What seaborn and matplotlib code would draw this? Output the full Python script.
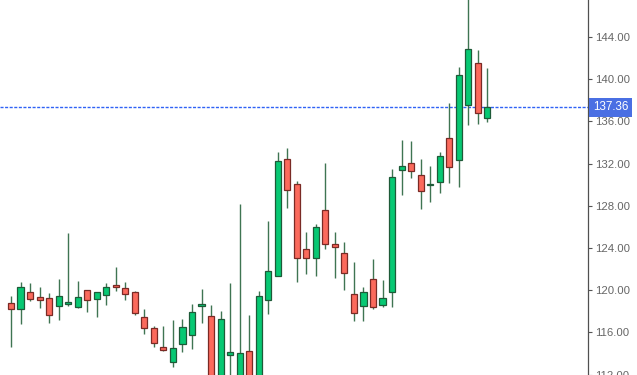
import matplotlib
matplotlib.use("Agg")
import matplotlib.pyplot as plt
import matplotlib.transforms as mtransforms
import seaborn as sns
import numpy as np
import pandas as pd

# ---- data ----
opens = [118.76, 118.19, 119.83, 119.39, 119.29, 118.47, 118.72, 118.44, 120.02, 119.19,
         119.55, 120.49, 120.21, 119.83, 117.43, 116.39, 114.62, 113.22, 114.90, 115.72,
         118.53, 117.53, 110.50, 113.86, 111.20, 114.21, 110.80, 119.10, 121.32, 132.41,
         130.10, 123.88, 123.08, 127.57, 124.41, 123.50, 119.67, 118.47, 121.03, 118.57,
         119.83, 131.40, 132.03, 130.92, 129.98, 130.26, 134.46, 132.31, 137.53, 141.54, 136.30]
closes = [118.19, 120.33, 119.19, 119.10, 117.62, 119.48, 118.91, 119.39, 119.10, 119.83,
          120.30, 120.28, 119.64, 117.87, 116.39, 115.00, 114.33, 114.55, 116.48, 117.90,
          118.67, 110.00, 117.24, 114.17, 114.02, 110.90, 119.48, 121.82, 132.22, 129.53,
          123.03, 123.03, 125.99, 124.35, 124.13, 121.60, 117.81, 119.83, 118.38, 119.29,
          130.73, 131.75, 131.27, 129.40, 130.04, 132.69, 131.65, 140.37, 142.89, 136.77, 137.36]
highs = [119.48, 120.81, 120.71, 120.28, 119.77, 121.04, 125.45, 120.87, 120.02, 119.83,
         120.68, 122.20, 120.78, 119.96, 118.19, 116.61, 116.61, 117.18, 117.27, 118.69,
         120.08, 118.60, 118.00, 120.71, 128.17, 117.65, 119.96, 126.59, 133.10, 133.48,
         130.38, 125.55, 126.31, 132.06, 125.55, 124.54, 122.68, 120.33, 122.96, 120.97,
         131.49, 134.21, 134.12, 132.41, 131.80, 133.07, 137.72, 141.16, 148.50, 142.74, 141.09]
lows = [114.65, 116.77, 118.98, 118.34, 116.92, 117.18, 118.50, 118.34, 117.93, 117.49,
        118.59, 119.92, 119.07, 117.68, 115.82, 114.59, 114.24, 112.75, 114.17, 114.46,
        116.92, 109.80, 110.20, 110.50, 110.80, 110.50, 110.50, 117.77, 121.32, 127.82,
        120.81, 121.54, 121.35, 123.91, 121.13, 120.02, 117.11, 117.11, 118.19, 118.38,
        118.38, 129.03, 130.60, 127.73, 128.36, 129.22, 130.16, 129.78, 135.63, 135.73, 135.97]
last_price = 137.36
y_ticks = [112, 116, 120, 124, 128, 132, 136, 140, 144]

df = pd.DataFrame({"open": opens, "high": highs, "low": lows, "close": closes})
df["idx"] = np.arange(len(df))
df["up"] = df["close"] >= df["open"]

# ---- style ----
sns.set_theme(style="white")
plt.rcParams["font.family"] = ["Liberation Sans", "DejaVu Sans"]

fig = plt.figure(figsize=(6.37, 3.75), dpi=100)
ax = fig.add_axes([0.0, 0.0, 588 / 637, 1.0])

UP_FILL, UP_EDGE = "#07c873", "#1e5a38"
DN_FILL, DN_EDGE = "#fb6a5c", "#7a2a25"
WICK = "#3f7552"

# wicks
ax.vlines(df["idx"], df["low"], df["high"], color=WICK, linewidth=1.0, zorder=1)

# bodies
bottoms = np.minimum(df["open"], df["close"])
heights = np.maximum(np.abs(df["close"] - df["open"]), 0.08)
fills = [UP_FILL if u else DN_FILL for u in df["up"]]
edges = [UP_EDGE if u else DN_EDGE for u in df["up"]]
ax.bar(df["idx"], heights, bottom=bottoms, width=0.64, color=fills,
       edgecolor=edges, linewidth=0.9, zorder=2)

# last price line
ax.axhline(last_price, color="#2f62f5", linewidth=1.0, linestyle=(0, (2.2, 1.1)), zorder=0)

ax.set_xlim(-1.155, 60.57)
ax.set_ylim(111.96, 147.507)

ax.yaxis.tick_right()
ax.set_yticks(y_ticks)
ax.set_yticklabels([f"{t:.2f}" for t in y_ticks])
ax.tick_params(axis="y", right=True, length=3, width=0.8, color="#555555",
               labelsize=8.2, labelcolor="#666666", pad=2)
ax.set_xticks([])

for s in ["top", "left", "bottom"]:
    ax.spines[s].set_visible(False)
ax.spines["right"].set_color("#505050")
ax.spines["right"].set_linewidth(0.9)

trans = mtransforms.blended_transform_factory(ax.transAxes, ax.transData)
ax.text(1.008, last_price, f"{last_price:.2f}", transform=trans, ha="left", va="center",
        fontsize=8.4, color="white", clip_on=False, zorder=5,
        bbox=dict(boxstyle="square,pad=0.3", facecolor="#4a6fe3", edgecolor="none"))

fig.savefig("out.png", dpi=100)
